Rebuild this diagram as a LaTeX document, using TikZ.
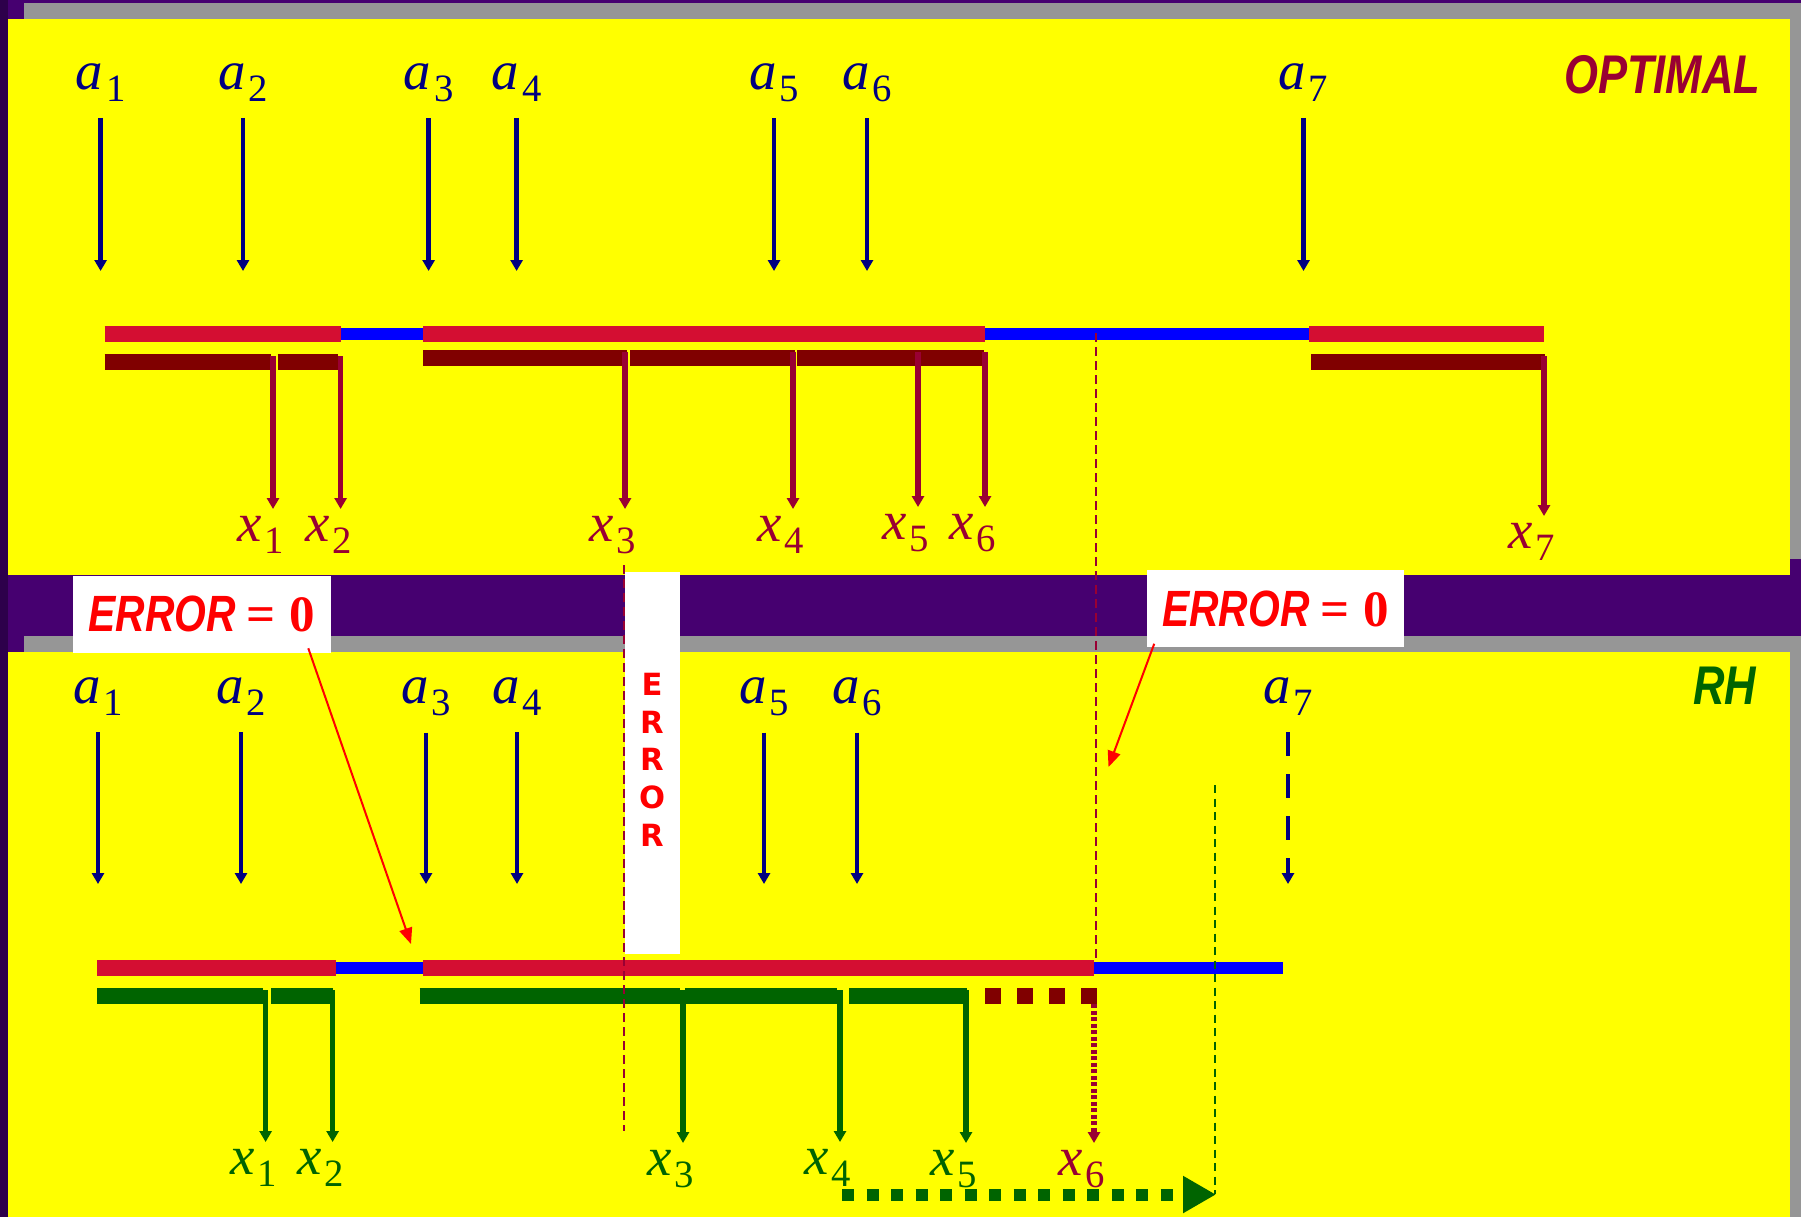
\documentclass[tikz,border=0pt]{standalone}
\usepackage{xcolor}
\usepackage{fontspec}
\setmainfont{Liberation Serif}
\newfontfamily\narrowsans[FakeStretch=0.8]{Liberation Sans}
\newfontfamily\lettersans{DejaVu Sans}
\usepackage{tikz}
\usetikzlibrary{arrows.meta}
\definecolor{bgpurple}{RGB}{70,0,112}
\definecolor{bgdark}{RGB}{45,0,75}
\definecolor{panelyellow}{RGB}{255,255,0}
\definecolor{shadowgray}{RGB}{150,150,150}
\definecolor{jobred}{RGB}{212,14,50}
\definecolor{idleblue}{RGB}{0,0,255}
\definecolor{darkmaroon}{RGB}{128,0,0}
\definecolor{optmaroon}{RGB}{153,0,51}
\definecolor{arrnavy}{RGB}{0,0,128}
\definecolor{rhgreen}{RGB}{0,100,0}
\definecolor{errred}{RGB}{255,0,0}
\newcommand{\lbl}[2]{\textit{#1}\kern0.05em\raisebox{-0.22em}{\fontsize{11pt}{11pt}\selectfont #2}}
\newcommand{\errzero}{{\narrowsans\bfseries\itshape ERROR}\hspace{3pt}\textbf{=}\hspace{4pt}\textbf{0}}
\tikzset{
  panel/.style={fill=panelyellow},
  shadow/.style={fill=shadowgray},
  busy/.style={jobred, line width=0.16cm},
  idle/.style={idleblue, line width=0.115cm},
  optjob/.style={darkmaroon, line width=0.16cm},
  rhjob/.style={rhgreen, line width=0.16cm},
  alab/.style={anchor=base, inner sep=0pt, text=arrnavy, font=\fontsize{15.6pt}{16pt}\selectfont},
  xlab/.style={anchor=north, inner sep=0pt, font=\fontsize{15.6pt}{16pt}\selectfont},
  aarr/.style={-{Triangle[length=0.11cm, width=0.12cm]}, arrnavy, line width=0.045cm, shorten <=0.16cm},
  xarr/.style={-{Triangle[length=0.11cm, width=0.12cm]}, line width=0.052cm, shorten >=0.07cm},
  errbox/.style={fill=white, minimum width=2.57cm, minimum height=0.77cm, inner sep=0pt,
    text=errred, font=\fontsize{14.5pt}{15pt}\selectfont},
  vlet/.style={anchor=north, inner sep=0pt, align=center, text=errred,
    font=\lettersans\bfseries\fontsize{8.7pt}{10.8pt}\selectfont},
  title/.style={anchor=base east, inner sep=0pt, font=\narrowsans\bfseries\itshape\fontsize{15.5pt}{16pt}\selectfont},
  guide/.style={dash pattern=on 0.09cm off 0.05cm, line width=0.025cm},
  note/.style={-{Triangle[length=0.16cm, width=0.13cm]}, errred, line width=0.02cm},
}

\begin{document}
\begin{tikzpicture}[x=0.01cm, y=-0.01cm]
\useasboundingbox (0,0) rectangle (1801,1217);

% ── Backdrop and panels ──
\fill[bgpurple] (0,0) rectangle (1801,1217);
\fill[bgdark] (0,0) rectangle (8,1217);
\fill[shadow] (24,3) rectangle (1801,559);
\fill[panel] (8,19) rectangle (1790,575);
\fill[shadow] (24,636) rectangle (1801,1217);
\fill[panel] (8,652) rectangle (1790,1217);

\node[title, text=optmaroon] (opt) at (1761,93) {OPTIMAL};
\node[title, text=rhgreen] (rh) at (1757,704) {RH};

% ── OPTIMAL: arrivals ──
\coordinate (toptip) at (0,271);
\node[alab] (ta1) at (100.6,89) {\lbl{a}{1}};
\node[alab] (ta2) at (243,89) {\lbl{a}{2}};
\node[alab] (ta3) at (428.6,89) {\lbl{a}{3}};
\node[alab] (ta4) at (516.6,89) {\lbl{a}{4}};
\node[alab] (ta5) at (774,89) {\lbl{a}{5}};
\node[alab] (ta6) at (867,89) {\lbl{a}{6}};
\node[alab] (ta7) at (1303.5,89) {\lbl{a}{7}};
\draw[aarr] (ta1.south) -- (ta1.south |- toptip);
\draw[aarr] (ta2.south) -- (ta2.south |- toptip);
\draw[aarr] (ta3.south) -- (ta3.south |- toptip);
\draw[aarr] (ta4.south) -- (ta4.south |- toptip);
\draw[aarr] (ta5.south) -- (ta5.south |- toptip);
\draw[aarr] (ta6.south) -- (ta6.south |- toptip);
\draw[aarr] (ta7.south) -- (ta7.south |- toptip);

% ── OPTIMAL: machine line and jobs ──
\draw[idle] (341,334) -- (423,334);
\draw[idle] (985,334) -- (1309,334);
\draw[busy] (104.5,334) -- (341,334);
\draw[busy] (423,334) -- (985,334);
\draw[busy] (1309,334) -- (1544,334);
\draw[optjob] (104.5,362) -- (270.5,362);
\draw[optjob] (277.7,362) -- (338,362);
\draw[optjob] (423,358) -- (627,358);
\draw[optjob] (630,358) -- (795,358);
\draw[optjob] (797,358) -- (984,358);
\draw[optjob] (1311,362) -- (1545,362);

% ── OPTIMAL: completions ──
\coordinate (tj1) at (273,356);
\coordinate (tj2) at (340.6,356);
\coordinate (tj3) at (625,352);
\coordinate (tj4) at (793,352);
\coordinate (tj5) at (918,352);
\coordinate (tj6) at (985,352);
\coordinate (tj7) at (1544,356);
\node[xlab, text=optmaroon] (tx1) at (261,516) {\lbl{x}{1}};
\node[xlab, text=optmaroon] (tx2) at (328.6,516) {\lbl{x}{2}};
\node[xlab, text=optmaroon] (tx3) at (613,516) {\lbl{x}{3}};
\node[xlab, text=optmaroon] (tx4) at (781,516) {\lbl{x}{4}};
\node[xlab, text=optmaroon] (tx5) at (906,514) {\lbl{x}{5}};
\node[xlab, text=optmaroon] (tx6) at (973,514) {\lbl{x}{6}};
\node[xlab, text=optmaroon] (tx7) at (1532,523) {\lbl{x}{7}};
\draw[xarr, optmaroon] (tj1) -- (tx1.north -| tj1);
\draw[xarr, optmaroon] (tj2) -- (tx2.north -| tj2);
\draw[xarr, optmaroon] (tj3) -- (tx3.north -| tj3);
\draw[xarr, optmaroon] (tj4) -- (tx4.north -| tj4);
\draw[xarr, optmaroon] (tj5) -- (tx5.north -| tj5);
\draw[xarr, optmaroon] (tj6) -- (tx6.north -| tj6);
\draw[xarr, optmaroon] (tj7) -- (tx7.north -| tj7);

% ── RH: arrivals ──
\coordinate (bottip) at (0,884);
\node[alab] (ba1) at (98,703.5) {\lbl{a}{1}};
\node[alab] (ba2) at (241,703.5) {\lbl{a}{2}};
\node[alab] (ba3) at (426,703.5) {\lbl{a}{3}};
\node[alab] (ba4) at (517,703.5) {\lbl{a}{4}};
\node[alab] (ba5) at (764,703.5) {\lbl{a}{5}};
\node[alab] (ba6) at (857,703.5) {\lbl{a}{6}};
\node[alab] (ba7) at (1288,703.5) {\lbl{a}{7}};
\draw[aarr] (ba1.south) -- (ba1.south |- bottip);
\draw[aarr] (ba2.south) -- (ba2.south |- bottip);
\draw[aarr] (ba3.south) -- (ba3.south |- bottip);
\draw[aarr] (ba4.south) -- (ba4.south |- bottip);
\draw[aarr] (ba5.south) -- (ba5.south |- bottip);
\draw[aarr] (ba6.south) -- (ba6.south |- bottip);
\draw[aarr, dash pattern=on 0.24cm off 0.18cm] (ba7.south) -- (ba7.south |- bottip);

% ── RH: machine line and jobs ──
\draw[idle] (336,968) -- (423,968);
\draw[idle] (1094,968) -- (1283,968);
\draw[busy] (97,968) -- (336,968);
\draw[busy] (423,968) -- (1094,968);
\draw[rhjob] (97,996) -- (262.5,996);
\draw[rhjob] (271,996) -- (332.6,996);
\draw[rhjob] (419.6,996) -- (679.5,996);
\draw[rhjob] (685,996) -- (836.6,996);
\draw[rhjob] (849,996) -- (967,996);
\draw[optjob, dash pattern=on 0.156cm off 0.164cm] (985,996) -- (1097,996);

% ── RH: completions ──
\coordinate (bj1) at (265.6,990);
\coordinate (bj2) at (332.6,990);
\coordinate (bj3) at (683,990);
\coordinate (bj4) at (840,990);
\coordinate (bj5) at (966,990);
\coordinate (bj6) at (1094,1004);
\node[xlab, text=rhgreen] (bx1) at (254,1149) {\lbl{x}{1}};
\node[xlab, text=rhgreen] (bx2) at (320.6,1149) {\lbl{x}{2}};
\node[xlab, text=rhgreen] (bx3) at (671,1150) {\lbl{x}{3}};
\node[xlab, text=rhgreen] (bx4) at (828,1149) {\lbl{x}{4}};
\node[xlab, text=rhgreen] (bx5) at (954,1150) {\lbl{x}{5}};
\node[xlab, text=optmaroon] (bx6) at (1082,1150) {\lbl{x}{6}};
\draw[xarr, rhgreen] (bj1) -- (bx1.north -| bj1);
\draw[xarr, rhgreen] (bj2) -- (bx2.north -| bj2);
\draw[xarr, rhgreen] (bj3) -- (bx3.north -| bj3);
\draw[xarr, rhgreen] (bj4) -- (bx4.north -| bj4);
\draw[xarr, rhgreen] (bj5) -- (bx5.north -| bj5);
\draw[xarr, optmaroon, dash pattern=on 0.04cm off 0.025cm] (bj6) -- (bx6.north -| bj6);

% ── Horizon shift ──
\coordinate (shiftL) at (842,1194.5);
\coordinate (shiftR) at (1216,1194.5);
\draw[rhgreen, line width=0.12cm, dash pattern=on 0.12cm off 0.125cm,
  -{Triangle[length=0.33cm, width=0.35cm]}] (shiftL) -- (shiftR);
\draw[guide, rhgreen, line width=0.02cm, dash pattern=on 0.08cm off 0.055cm] (1214.5,785) -- (1214.5,1194);

% ── Error boxes ──
\node[errbox] (errl) at (202,614) {\errzero};
\node[errbox] (errr) at (1275.5,608.5) {\errzero};
\node[fill=white, minimum width=0.55cm, minimum height=3.82cm, inner sep=0pt, anchor=north west] (errv) at (624,571) {};
\node[vlet] (errvtxt) at (652,672) {E\\R\\R\\O\\R};

\draw[guide, optmaroon] (1096,333) -- (1096,960);
\draw[guide, optmaroon] (624,565) -- (624,1131);

\coordinate (notel) at (411,944);
\coordinate (noter) at (1108.5,767);
\draw[note] ([shift={(-23,-5)}]errl.south east) -- (notel);
\draw[note] ([shift={(8,-4)}]errr.south west) -- (noter);

\end{tikzpicture}
\end{document}
